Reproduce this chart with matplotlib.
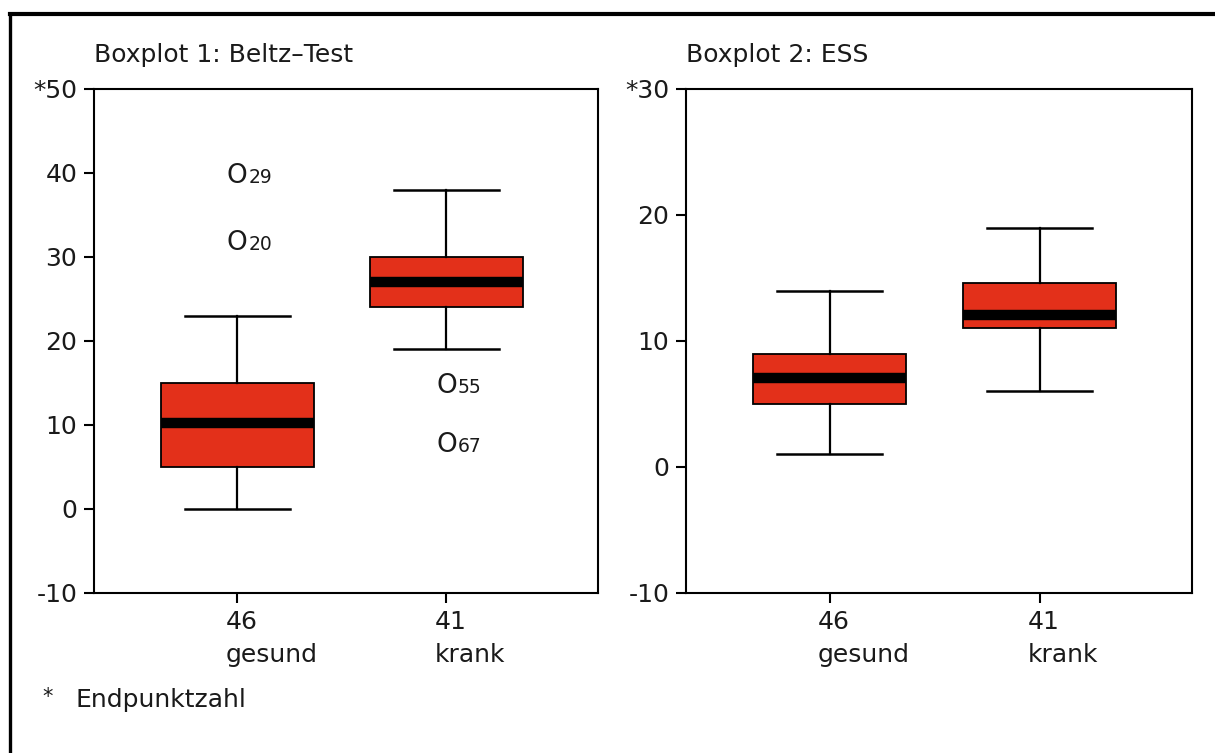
import matplotlib
matplotlib.use("Agg")
import matplotlib.pyplot as plt
from matplotlib.lines import Line2D

plt.rcParams['font.family'] = ['DejaVu Sans']

# ---- data ----
groups = ["gesund", "krank"]
counts = ["46", "41"]

# Boxplot 1: Beltz-Test
b1_q1 = [5, 24]
b1_med = [10.2, 27]
b1_q3 = [15, 30]
b1_lo = [0, 19]
b1_hi = [23, 38]
b1_out_group = [1, 1, 2, 2]
b1_out_val = [40, 32, 15, 8]
b1_out_lab = ["29", "20", "55", "67"]
b1_yticks = [-10, 0, 10, 20, 30, 40, 50]
b1_ylabels = ["-10", "0", "10", "20", "30", "40", "*50"]

# Boxplot 2: ESS
b2_q1 = [5, 11]
b2_med = [7.1, 12.1]
b2_q3 = [9, 14.6]
b2_lo = [1, 6]
b2_hi = [14, 19]
b2_yticks = [-10, 0, 10, 20, 30]
b2_ylabels = ["-10", "0", "10", "20", "*30"]

titles = ["Boxplot 1: Beltz\u2013Test", "Boxplot 2: ESS"]

BOX = '#E3301A'
TXT = '#1a1a1a'
FS = 18

fig = plt.figure(figsize=(12.15, 7.53), dpi=100)

# frame lines (top and left)
fig.add_artist(Line2D([10/1215, 1.0], [1-14/753, 1-14/753], transform=fig.transFigure,
                      color='black', lw=3))
fig.add_artist(Line2D([10/1215, 10/1215], [0, 1-14/753], transform=fig.transFigure,
                      color='black', lw=2.4))

ax1 = fig.add_axes([94/1215, 160/753, 504/1215, 504/753])
ax2 = fig.add_axes([686/1215, 160/753, 506/1215, 504/753])


def draw(ax, q1, med, q3, lo, hi, yticks, ylabels, ylim, title):
    stats = []
    for i in range(len(groups)):
        stats.append(dict(q1=q1[i], med=med[i], q3=q3[i], whislo=lo[i], whishi=hi[i],
                          fliers=[], label=groups[i]))
    ax.bxp(stats, positions=[1, 2], widths=0.73, patch_artist=True, showfliers=False,
           capwidths=0.5,
           boxprops=dict(facecolor=BOX, edgecolor='black', linewidth=1.3),
           medianprops=dict(color='black', linewidth=7.5, solid_capstyle='butt'),
           whiskerprops=dict(color='black', linewidth=1.6),
           capprops=dict(color='black', linewidth=1.8))
    ax.set_xlim(0.315, 2.725)
    ax.set_ylim(*ylim)
    ax.set_yticks(yticks)
    ax.set_yticklabels(ylabels)
    ax.set_xticks([1, 2])
    ax.set_xticklabels(["", ""])
    # group labels (count above name), left-aligned slightly left of tick
    for pos, c, g in zip([1, 2], counts, groups):
        ax.annotate(f"{c}\n{g}", xy=(pos, 0), xycoords=ax.get_xaxis_transform(),
                    xytext=(-8.6, -12.5), textcoords='offset points',
                    ha='left', va='top', fontsize=FS, color=TXT, linespacing=1.45,
                    annotation_clip=False)
    ax.tick_params(axis='both', direction='out', length=7, width=1.5, labelsize=FS,
                   colors='black', labelcolor=TXT)
    ax.tick_params(axis='y', pad=5)
    for s in ax.spines.values():
        s.set_linewidth(1.5)
        s.set_color('black')
    bb = ax.get_position()
    fig.text(bb.x0, bb.y1 + 27/753, title, fontsize=FS, color=TXT, ha='left', va='baseline')


draw(ax1, b1_q1, b1_med, b1_q3, b1_lo, b1_hi, b1_yticks, b1_ylabels, (-10, 50), titles[0])
draw(ax2, b2_q1, b2_med, b2_q3, b2_lo, b2_hi, b2_yticks, b2_ylabels, (-10, 30), titles[1])

# outliers (SPSS style "O" with case number)
for g, v, lab in zip(b1_out_group, b1_out_val, b1_out_lab):
    ax1.annotate("O", (g, v), xytext=(0, -7.2), textcoords='offset points',
                 ha='center', va='baseline', fontsize=FS + 1, color=TXT)
    ax1.annotate(lab, (g, v), xytext=(8.2, -7.2), textcoords='offset points',
                 ha='left', va='baseline', fontsize=13.5, color=TXT)

# footnote
fig.text(42/1215, 1-703/753, "*", fontsize=FS - 3, color=TXT, ha='left', va='baseline')
fig.text(75/1215, 1-707/753, "Endpunktzahl", fontsize=FS, color=TXT, ha='left', va='baseline')

fig.savefig("out.png", dpi=100)
